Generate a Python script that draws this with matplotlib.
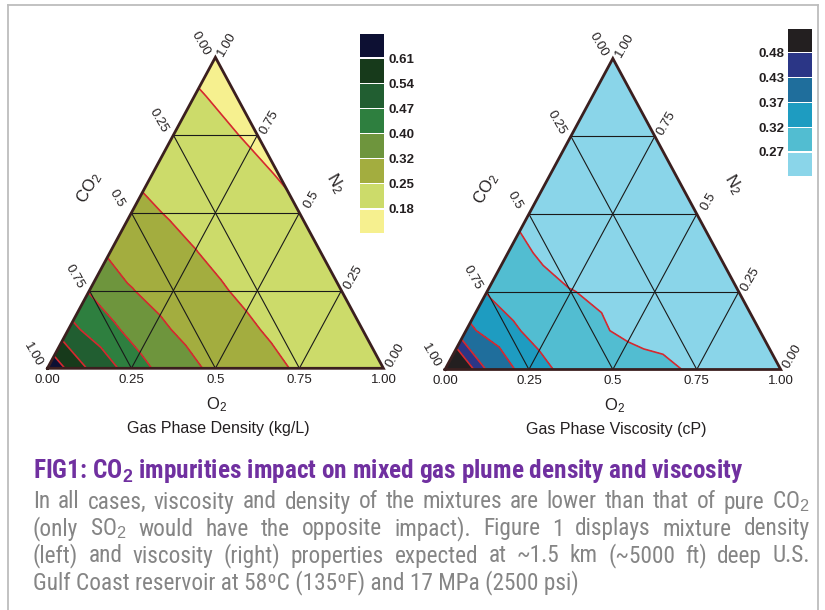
import numpy as np
import matplotlib
matplotlib.use('Agg')
import matplotlib.pyplot as plt
import matplotlib.tri as mtri
from matplotlib import font_manager as fm
from matplotlib.lines import Line2D

# ------------------------------------------------------------------ data
ticks = [0.0, 0.25, 0.5, 0.75, 1.0]
tick_labels = ['0.00', '0.25', '0.5', '0.75', '1.00']

den_levels = [0.18, 0.25, 0.32, 0.40, 0.47, 0.54, 0.61]
den_colors = ['#F6F08F', '#CCDB6A', '#A3AD3F', '#6E953D', '#2E7F3F',
              '#215E31', '#173A1B', '#0D1033']
vis_levels = [0.27, 0.32, 0.37, 0.43, 0.48]
vis_colors = ['#8AD5E9', '#52BDD1', '#1E9CC1', '#1F6E9C', '#2B3686', '#231F20']

# gas phase density (kg/L) at grid nodes.
# row k: N2 fraction = k/8 ; entries: O2 fraction = 0, 1/8, 2/8 ... ; CO2 = remainder
den_n0 = [0.666, 0.531, 0.441, 0.356, 0.304, 0.275, 0.242, 0.222, 0.205]
den_n1 = [0.490, 0.418, 0.340, 0.295, 0.267, 0.237, 0.217, 0.200]
den_n2 = [0.395, 0.323, 0.285, 0.259, 0.231, 0.211, 0.194]
den_n3 = [0.307, 0.276, 0.252, 0.226, 0.206, 0.189]
den_n4 = [0.266, 0.244, 0.221, 0.201, 0.183]
den_n5 = [0.236, 0.215, 0.196, 0.178]
den_n6 = [0.210, 0.190, 0.172]
den_n7 = [0.185, 0.167]
den_n8 = [0.161]

# gas phase viscosity (cP) at the same nodes
vis_n0 = [0.600, 0.425, 0.342, 0.304, 0.290, 0.279, 0.265, 0.255, 0.245]
vis_n1 = [0.383, 0.330, 0.297, 0.276, 0.262, 0.256, 0.249, 0.239]
vis_n2 = [0.318, 0.291, 0.271, 0.263, 0.252, 0.243, 0.234]
vis_n3 = [0.285, 0.260, 0.254, 0.245, 0.237, 0.228]
vis_n4 = [0.258, 0.248, 0.238, 0.230, 0.223]
vis_n5 = [0.240, 0.232, 0.224, 0.217]
vis_n6 = [0.225, 0.218, 0.211]
vis_n7 = [0.212, 0.206]
vis_n8 = [0.200]

title_text = r'FIG1: CO$_\mathbf{2}$ impurities impact on mixed gas plume density and viscosity'
body_lines = [
    r'In all cases, viscosity and density of the mixtures are lower than that of pure CO$_2$',
    r'(only SO$_2$ would have the opposite impact). Figure 1 displays mixture density',
    r'(left) and viscosity (right) properties expected at ~1.5 km (~5000 ft) deep U.S.',
    'Gulf Coast reservoir at 58\u00baC (135\u00baF) and 17 MPa (2500 psi)',
]

# ------------------------------------------------------------------ style
entries = fm.fontManager.ttflist
names = {f.name for f in entries}


def is_bold(w):
    if isinstance(w, str):
        return w.lower() in ('bold', 'heavy', 'extra bold', 'demibold', 'semibold', 'black')
    return w >= 600


def is_regular(f):
    w = f.weight
    ok = (w in ('normal', 'regular', 'book', 'medium')) if isinstance(w, str) else (350 <= w <= 500)
    return ok and f.style == 'normal'


SANS = 'Liberation Sans' if 'Liberation Sans' in names else 'DejaVu Sans'
NARROW = SANS
for cand in ['Liberation Sans Narrow', 'Arial Narrow', 'Roboto Condensed',
             'Archivo Narrow', 'PT Sans Narrow', 'Fira Sans Condensed',
             'Asap Condensed', 'Encode Sans Condensed', 'Barlow Condensed']:
    fam = [f for f in entries if f.name == cand]
    if any(is_bold(f.weight) for f in fam) and any(is_regular(f) for f in fam):
        NARROW = cand
        break

plt.rcParams['font.family'] = [SANS, 'DejaVu Sans']
plt.rcParams['mathtext.fontset'] = 'custom'
plt.rcParams['mathtext.rm'] = SANS
plt.rcParams['mathtext.it'] = SANS + ':italic'
plt.rcParams['mathtext.bf'] = SANS + ':bold'

W, Hpx = 825, 610
fig = plt.figure(figsize=(W / 100, Hpx / 100), dpi=100)
fig.patch.set_facecolor('white')
H = np.sqrt(3) / 2
TXT = '#231F20'
RED = '#D7282F'


def px_rect(x0, y_top, x1, y_bot):
    return [x0 / W, (Hpx - y_bot) / Hpx, (x1 - x0) / W, (y_bot - y_top) / Hpx]


def build(rows):
    xs, ys, zs, idx = [], [], [], {}
    for r, row in enumerate(rows):
        n = r / 8
        for k, v in enumerate(row):
            o = k / 8
            idx[(r, k)] = len(xs)
            xs.append(o + n / 2)
            ys.append(n * H)
            zs.append(v)
    tris = []
    for r in range(8):
        for k in range(8 - r):
            tris.append([idx[(r, k)], idx[(r, k + 1)], idx[(r + 1, k)]])
            if k < 7 - r:
                tris.append([idx[(r, k + 1)], idx[(r + 1, k + 1)], idx[(r + 1, k)]])
    return mtri.Triangulation(xs, ys, tris), np.array(zs)


def panel(rect, rows, levels, colors, xlabel):
    ax = fig.add_axes(rect)
    ax.set_xlim(0, 1)
    ax.set_ylim(0, H)
    ax.axis('off')
    tri, z = build(rows)
    ax.tricontourf(tri, z, levels=[0.0] + levels + [1.0], colors=colors)
    ax.tricontour(tri, z, levels=levels, colors=RED, linewidths=1.2)
    for t in ticks[1:-1]:
        kw = dict(color='#1a1a1a', lw=0.8)
        ax.plot([t / 2, 1 - t / 2], [t * H, t * H], **kw)              # N2 = t
        ax.plot([t, t + (1 - t) / 2], [0, (1 - t) * H], **kw)          # O2 = t
        ax.plot([1 - t, (1 - t) / 2], [0, (1 - t) * H], **kw)          # CO2 = t
    ax.plot([0, 1, 0.5, 0], [0, 0, H, 0], color='#3b1f1f', lw=2.0,
            solid_joinstyle='miter', clip_on=False)
    for t, lab in zip(ticks, tick_labels):
        ax.annotate(lab, (t, 0), xytext=(0, -8.6), textcoords='offset points',
                    ha='center', va='center', fontsize=9.5, color=TXT)
        n = 1 - t
        ax.annotate(lab, (n / 2, n * H), xytext=(-10.4, 10.1), textcoords='offset points',
                    ha='center', va='center', rotation=-60, fontsize=9.5, color=TXT)
        ax.annotate(lab, (1 - t / 2, t * H), xytext=(8.4, 9.2), textcoords='offset points',
                    ha='center', va='center', rotation=60, fontsize=9.5, color=TXT)
    ax.text(0.124, 0.502, r'CO$_2$', rotation=60, ha='center', va='center',
            fontsize=12, color=TXT)
    ax.text(0.857, 0.516, r'N$_2$', rotation=-60, ha='center', va='center',
            fontsize=12, color=TXT)
    ax.text(0.504, -0.100, r'O$_2$', ha='center', va='center', fontsize=12, color=TXT)
    ax.text(0.51, -0.167, xlabel, ha='center', va='center', fontsize=11.5, color=TXT)
    return ax


panel(px_rect(47.4, 57.3, 383.4, 368.3),
      [den_n0, den_n1, den_n2, den_n3, den_n4, den_n5, den_n6, den_n7, den_n8],
      den_levels, den_colors, 'Gas Phase Density (kg/L)')
panel(px_rect(445.0, 58.5, 780.7, 369.5),
      [vis_n0, vis_n1, vis_n2, vis_n3, vis_n4, vis_n5, vis_n6, vis_n7, vis_n8],
      vis_levels, vis_colors, 'Gas Phase Viscosity (cP)')


def legend(rect, levels, colors, side):
    ax = fig.add_axes(rect)
    nb = len(colors)
    ax.bar([0] * nb, [0.95] * nb, bottom=[i + 0.025 for i in range(nb)],
           width=1.0, color=colors, align='center')
    ax.set_xlim(-0.5, 0.5)
    ax.set_ylim(0, nb)
    ax.set_xticks([])
    ax.set_yticks(range(1, nb))
    ax.set_yticklabels(['%.2f' % v for v in levels], fontsize=9.5, fontweight='bold',
                       color=TXT)
    if side == 'right':
        ax.yaxis.tick_right()
    ax.tick_params(axis='y', length=0, pad=3)
    for s in ax.spines.values():
        s.set_visible(False)
    ax.patch.set_alpha(0)


legend(px_rect(360, 33, 384, 234), den_levels, den_colors, 'right')
legend(px_rect(788.3, 28, 812, 176.7), vis_levels, vis_colors, 'left')

bc = '#BDBDBD'
fig.add_artist(Line2D([8 / W, 8 / W], [-0.01, 1 - 5 / Hpx], color=bc, lw=1.3))
fig.add_artist(Line2D([818 / W, 818 / W], [-0.01, 1 - 5 / Hpx], color=bc, lw=1.3))
fig.add_artist(Line2D([8 / W, 818 / W], [1 - 5 / Hpx, 1 - 5 / Hpx], color=bc, lw=1.3))

# ------------------------------------------------------------------ caption
fig.canvas.draw()
rend = fig.canvas.get_renderer()


def wpx(s, size, weight='normal'):
    t = fig.text(0, 0, s, fontsize=size, fontweight=weight, family=NARROW)
    w = t.get_window_extent(rend).width
    t.remove()
    return w


X0, X1 = 33.0, 810.0
tsize = 14 * 712 / wpx(title_text, 14, 'bold')
fig.text(X0 / W, 1 - 478 / Hpx, title_text, fontsize=tsize, fontweight='bold',
         family=NARROW, color='#7030A0', va='baseline', ha='left')

longest = max(wpx(l, 13) for l in body_lines[:3])
bsize = 13 * (X1 - X0) * 0.95 / longest
GRAY = '#858585'
base = [508.5, 535.5, 562.5, 589.5]
for i, line in enumerate(body_lines):
    yb = 1 - base[i] / Hpx
    if i < 3:
        words = line.split(' ')
        ws = [wpx(w_, bsize) for w_ in words]
        gap = (X1 - X0 - sum(ws)) / (len(words) - 1)
        x = X0
        for w_, ww in zip(words, ws):
            fig.text(x / W, yb, w_, fontsize=bsize, family=NARROW, color=GRAY,
                     va='baseline', ha='left')
            x += ww + gap
    else:
        fig.text(X0 / W, yb, line, fontsize=bsize, family=NARROW, color=GRAY,
                 va='baseline', ha='left')

fig.savefig('out.png', dpi=100, facecolor='white')
